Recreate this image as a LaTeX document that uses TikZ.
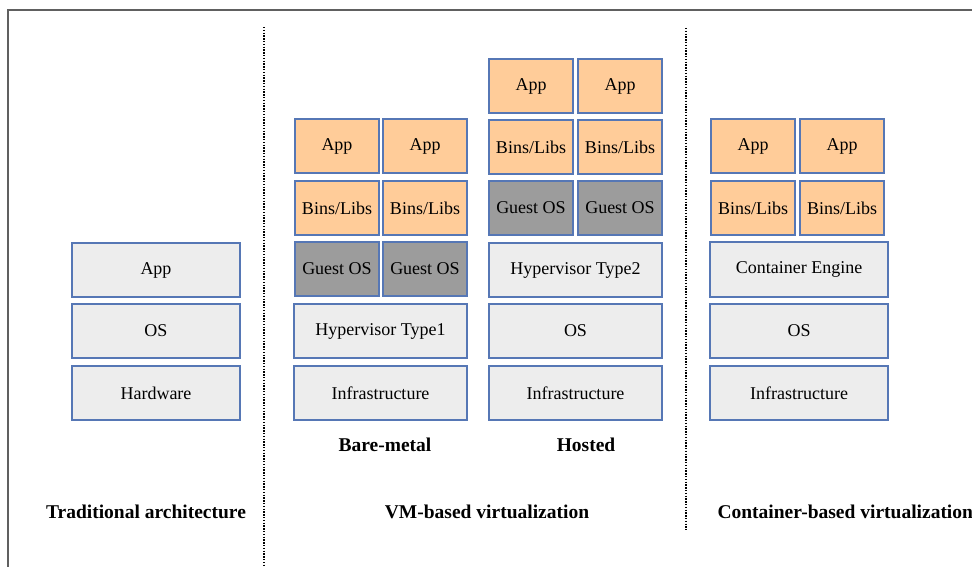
\documentclass[tikz,border=0pt]{standalone}
\usepackage{fontspec}
\setmainfont{Liberation Serif}
\definecolor{edge}{HTML}{5677B5}
\definecolor{peach}{HTML}{FFCC99}
\definecolor{guest}{HTML}{9C9C9C}
\definecolor{base}{HTML}{EDEDED}
\definecolor{frame}{HTML}{606060}
\tikzset{
  blk/.style={draw=edge, line width=2pt, inner sep=0pt, anchor=north west,
    xshift=1pt, yshift=-1pt, font=\fontsize{18}{18}\selectfont},
  app/.style={blk, fill=peach},
  vm/.style={blk, fill=guest},
  plain/.style={blk, fill=base},
  caption/.style={font=\fontsize{19.5}{19.5}\selectfont\bfseries},
  sep/.style={line width=2pt, dash pattern=on 1.4pt off 1.4pt}
}
% \layer{name}{style}{x}{y}{width}{height}{text}
\newcommand\layer[7]{\node[#2, minimum width=#5pt-2pt, minimum height=#6pt-2pt] (#1) at (#3,#4) {#7};}
\begin{document}
\begin{tikzpicture}[x=1pt, y=-1pt]
\useasboundingbox (0,0) rectangle (972,567);
\clip (0,0) rectangle (972,567);
% outer frame (runs past the page on the right and bottom)
\draw[frame, line width=2.2pt] (8,600) -- (8,10) -- (1000,10);

% traditional stack
\layer{tApp}{plain}{70}{241}{170}{56}{App}
\layer{tOS}{plain}{70}{302}{170}{56}{OS}
\layer{tHw}{plain}{70}{364}{170}{56}{Hardware}

% bare-metal hypervisor
\layer{bApp1}{app}{293}{117}{86}{56}{App}
\layer{bApp2}{app}{381}{117}{86}{56}{App}
\layer{bLib1}{app}{293}{179}{86}{56}{Bins/Libs}
\layer{bLib2}{app}{381}{179}{86}{56}{Bins/Libs}
\layer{bGos1}{vm}{293}{240}{86}{56}{Guest OS}
\layer{bGos2}{vm}{381}{240}{86}{56}{Guest OS}
\layer{bHyp}{plain}{292}{302}{175}{56}{Hypervisor Type1}
\layer{bInf}{plain}{292}{364}{175}{56}{Infrastructure}

% hosted hypervisor
\layer{hApp1}{app}{487}{57}{86}{56}{App}
\layer{hApp2}{app}{576}{57}{86}{56}{App}
\layer{hLib1}{app}{487}{118}{86}{56}{Bins/Libs}
\layer{hLib2}{app}{576}{118}{86}{56}{Bins/Libs}
\layer{hGos1}{vm}{487}{179}{86}{56}{Guest OS}
\layer{hGos2}{vm}{576}{179}{86}{56}{Guest OS}
\layer{hHyp}{plain}{487}{241}{175}{56}{Hypervisor Type2}
\layer{hOS}{plain}{487}{302}{175}{56}{OS}
\layer{hInf}{plain}{487}{364}{175}{56}{Infrastructure}

% containers
\layer{cApp1}{app}{709}{117}{86}{56}{App}
\layer{cApp2}{app}{798}{117}{86}{56}{App}
\layer{cLib1}{app}{709}{179}{86}{56}{Bins/Libs}
\layer{cLib2}{app}{798}{179}{86}{56}{Bins/Libs}
\layer{cEng}{plain}{708}{240}{180}{57}{Container Engine}
\layer{cOS}{plain}{708}{302}{180}{56}{OS}
\layer{cInf}{plain}{708}{364}{180}{56}{Infrastructure}

% sub-captions
\node[caption] (bm) at (385,445) {Bare-metal};
\node[caption] (ho) at (586,445) {Hosted};

% section captions
\node[caption] (trad) at (146,512) {Traditional architecture};
\node[caption] (vmb) at (487,512) {VM-based virtualization};
\node[caption, anchor=west] (ctb) at (714,512) {Container-based virtualization};

% dotted separators
\coordinate (s1a) at (264,27);
\coordinate (s1b) at (264,570);
\coordinate (s2a) at (686,28);
\coordinate (s2b) at (686,530);
\draw[sep] (s1a) -- (s1b);
\draw[sep] (s2a) -- (s2b);
\end{tikzpicture}
\end{document}
